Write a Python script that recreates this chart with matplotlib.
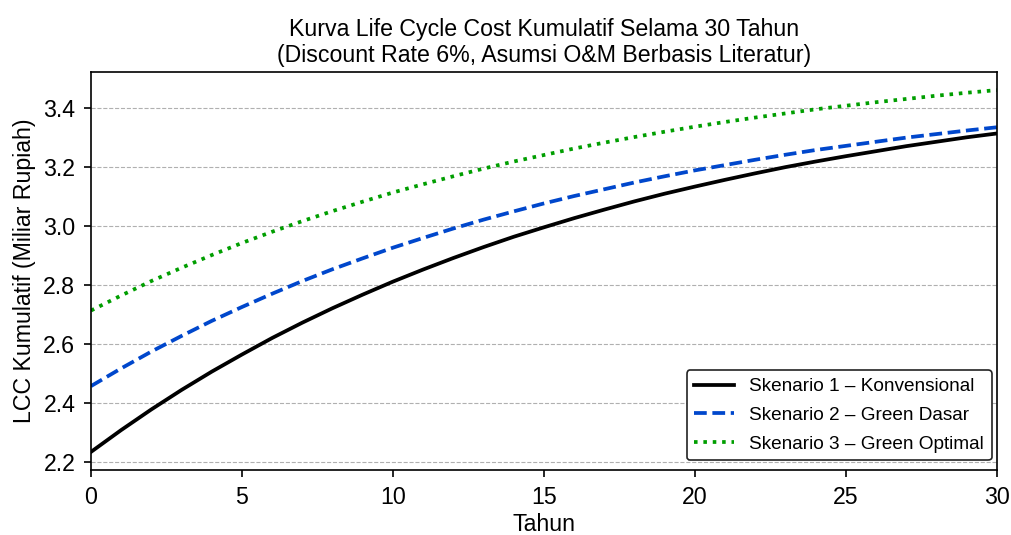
import matplotlib
matplotlib.use("Agg")
import matplotlib.pyplot as plt

plt.rcParams['font.family'] = ['Liberation Sans', 'DejaVu Sans']

tahun = list(range(0, 31))
skenario1 = [2.234, 2.308, 2.378, 2.444, 2.506, 2.564, 2.620, 2.672, 2.721, 2.767,
             2.811, 2.852, 2.891, 2.928, 2.963, 2.995, 3.026, 3.055, 3.083, 3.109,
             3.133, 3.156, 3.178, 3.199, 3.218, 3.236, 3.253, 3.270, 3.285, 3.300, 3.313]
skenario2 = [2.457, 2.517, 2.574, 2.627, 2.678, 2.725, 2.770, 2.813, 2.853, 2.890,
             2.926, 2.959, 2.991, 3.021, 3.049, 3.076, 3.101, 3.124, 3.147, 3.168,
             3.188, 3.206, 3.224, 3.241, 3.257, 3.271, 3.285, 3.299, 3.311, 3.323, 3.334]
skenario3 = [2.713, 2.764, 2.813, 2.858, 2.901, 2.942, 2.980, 3.016, 3.050, 3.082,
             3.113, 3.141, 3.168, 3.194, 3.218, 3.240, 3.262, 3.282, 3.301, 3.319,
             3.336, 3.352, 3.367, 3.381, 3.395, 3.407, 3.419, 3.430, 3.441, 3.451, 3.460]
labels = ["Skenario 1 – Konvensional", "Skenario 2 – Green Dasar", "Skenario 3 – Green Optimal"]

fig = plt.figure(figsize=(10.12, 5.35), dpi=100)
ax = fig.add_axes([0.0899, 0.1215, 0.8951, 0.7439])

ax.plot(tahun, skenario1, color='black', lw=2.7, ls='-', label=labels[0])
ax.plot(tahun, skenario2, color='#0047cc', lw=2.7, ls=(0, (3.4, 1.5)), label=labels[1])
ax.plot(tahun, skenario3, color='#009e00', lw=2.7, ls=(0, (0.95, 1.55)), label=labels[2])

ax.set_xlim(0, 30)
ax.grid(axis='y', ls='--', color='#b0b0b0', lw=0.8)
ax.set_axisbelow(True)
ax.tick_params(labelsize=16.7, length=5, width=1.2, pad=6.3)
ax.set_xlabel("Tahun", fontsize=16.7, labelpad=3)
ax.set_ylabel("LCC Kumulatif (Miliar Rupiah)", fontsize=16.7, labelpad=5)
ax.set_title("Kurva Life Cycle Cost Kumulatif Selama 30 Tahun\n(Discount Rate 6%, Asumsi O&M Berbasis Literatur)",
             fontsize=16.7, pad=7)
for s in ax.spines.values():
    s.set_linewidth(1.2)

leg = ax.legend(loc='lower right', bbox_to_anchor=(1.005, 0.0), fontsize=13.7, framealpha=1,
                edgecolor='#222222', handlelength=2.1, labelspacing=0.6)
leg.get_frame().set_linewidth(1.2)

fig.savefig("out.png", dpi=100)
